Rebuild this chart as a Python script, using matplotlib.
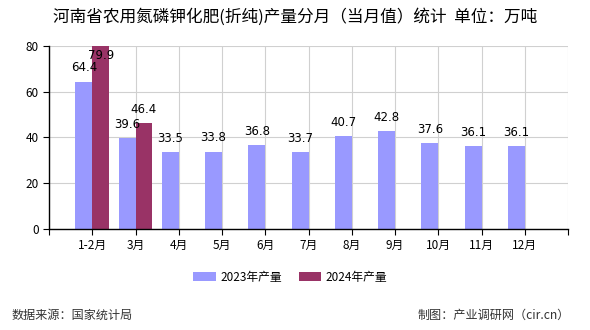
import matplotlib
matplotlib.use("Agg")
import matplotlib.pyplot as plt
import numpy as np

plt.rcParams['font.family'] = ['Noto Sans CJK SC', 'DejaVu Sans']

categories = ["1-2月", "3月", "4月", "5月", "6月", "7月", "8月", "9月", "10月", "11月", "12月"]
prod_2023 = [64.4, 39.6, 33.5, 33.8, 36.8, 33.7, 40.7, 42.8, 37.6, 36.1, 36.1]
prod_2024 = [79.9, 46.4]
series_names = ["2023年产量", "2024年产量"]
title = "河南省农用氮磷钾化肥(折纯)产量分月（当月值）统计  单位：万吨"

c23 = "#9999FF"
c24 = "#993366"

fig = plt.figure(figsize=(5.9, 3.3), dpi=100)
ax = fig.add_axes([0.083, 0.306, 0.880, 0.555])

w = 0.39
x = np.arange(len(categories))
x24 = np.arange(len(prod_2024))
ax.bar(x - w / 2, prod_2023, width=w, color=c23, label=series_names[0], zorder=2)
ax.bar(x24 + w / 2, prod_2024, width=w, color=c24, label=series_names[1], zorder=2)

ymax = 80
def label_y(v):
    y = v + 6
    return min(y, ymax - 4)

for xi, v in zip(x, prod_2023):
    ax.text(xi - w / 2, label_y(v), f"{v:.1f}", ha='center', va='center', fontsize=8.5, family=['DejaVu Sans'], zorder=3)
for xi, v in zip(x24, prod_2024):
    ax.text(xi + w / 2, label_y(v), f"{v:.1f}", ha='center', va='center', fontsize=8.5, family=['DejaVu Sans'], zorder=3)

ax.set_xlim(-1, len(categories))
ax.set_ylim(0, ymax)
ax.set_yticks([0, 20, 40, 60, 80])
ax.set_xticks(np.arange(-1, len(categories) + 1))
ax.set_xticklabels([""] + categories + [""])
ax.tick_params(axis='both', labelsize=8.5, length=4, color='black')
ax.grid(True, color='#d0d0d0', linewidth=0.8, zorder=0)
for s in ['top', 'right']:
    ax.spines[s].set_visible(False)
for s in ['left', 'bottom']:
    ax.spines[s].set_color('black')
    ax.spines[s].set_linewidth(1.0)
ax.set_axisbelow(True)

fig.text(0.5, 0.948, title, ha='center', va='center', fontsize=12, fontweight='medium')

leg = fig.legend(loc='center', bbox_to_anchor=(0.492, 0.16), ncol=2, frameon=False,
                 fontsize=8.5, handlelength=1.9, handleheight=0.7, columnspacing=1.4, handletextpad=0.4)

fig.text(0.02, 0.045, "数据来源：国家统计局", ha='left', va='center', fontsize=8.7, color='#333333')
fig.text(0.966, 0.045, "制图：产业调研网（cir.cn）", ha='right', va='center', fontsize=8.7, color='#333333')

fig.savefig("out.png", dpi=100)
